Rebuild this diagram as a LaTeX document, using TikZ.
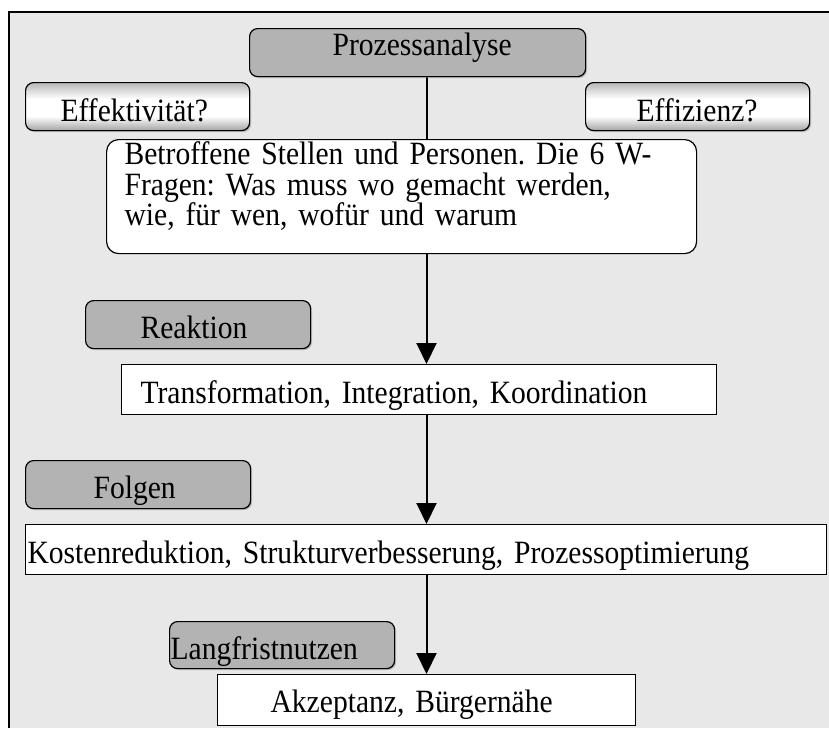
\documentclass[tikz,border=0pt]{standalone}
\usepackage{fontspec}
\setmainfont[FakeStretch=0.91]{Liberation Serif}
\usetikzlibrary{arrows.meta,shadows}

\definecolor{panelgray}{HTML}{E8E8E8}
\definecolor{boxgray}{HTML}{B3B3B3}

% button look: grey at the edges, white band in the middle
\pgfdeclareverticalshading{buttonshade}{100bp}{%
  color(0bp)=(black!36); color(25bp)=(black!36);
  color(40bp)=(white); color(58bp)=(white);
  color(75bp)=(black!28); color(100bp)=(black!28)}

\pgfdeclarelayer{panel}
\pgfdeclarelayer{wires}
\pgfsetlayers{panel,wires,main}

\tikzset{
  x=1pt, y=-1pt,
  boxbase/.style={anchor=north west, inner xsep=0pt, inner ysep=0pt,
    align=left, draw=black, line width=1.2pt,
    font=\fontsize{32.5pt}{30.5pt}\selectfont\frenchspacing},
  softshadow/.style={drop shadow={shadow xshift=1.5pt, shadow yshift=-1.5pt,
    fill=black!45}},
  graybox/.style={boxbase, fill=boxgray, rounded corners=8pt, softshadow},
  buttonbox/.style={boxbase, shade, shading=buttonshade, rounded corners=8pt,
    softshadow},
  notebox/.style={boxbase, fill=white, rounded corners=12pt},
  whitebox/.style={boxbase, fill=white},
  flow/.style={line width=2pt, -{Triangle[width=20pt,length=21pt]}},
}

\begin{document}
\begin{tikzpicture}
\useasboundingbox (0,0) rectangle (829,728);

% grey panel with its frame
\begin{pgfonlayer}{panel}
  \fill[panelgray] (9,12) rectangle (829,728);
  \draw[line width=1.5pt] (9,728) -- (9,12) -- (829,12);
\end{pgfonlayer}

% headings and questions
\node[graybox, text width=336pt, text height=27pt, text depth=21pt]
  (pa) at (249,28) {\hspace*{83pt}Prozessanalyse};
\node[buttonbox, text width=224pt, text height=39pt, text depth=9pt]
  (eff) at (25,82) {\hspace*{35pt}Effektivität?};
\node[buttonbox, text width=224pt, text height=39pt, text depth=9pt]
  (ezi) at (585,82) {\hspace*{51pt}Effizienz?};

% description of the analysis
\node[notebox, inner xsep=18pt, text width=554pt, text height=25pt, text depth=89pt]
  (bet) at (106,139)
  {Betroffene Stellen und Personen. Die 6 W-\\
   Fragen: Was muss wo gemacht werden,\\
   wie, für wen, wofür und warum};

% stages
\node[graybox, text width=225pt, text height=38pt, text depth=10pt]
  (re) at (85,300) {\hspace*{55pt}Reaktion};
\node[whitebox, text width=595pt, text height=39pt, text depth=11pt]
  (tr) at (121,364) {\hspace*{19pt}Transformation, Integration, Koordination};

\node[graybox, text width=225pt, text height=38pt, text depth=10pt]
  (fo) at (25,460) {\hspace*{68pt}Folgen};
\node[whitebox, text width=801pt, text height=39pt, text depth=11pt]
  (ko) at (25,524) {\hspace*{2pt}Kostenreduktion, Strukturverbesserung, Prozessoptimierung};

\node[graybox, text width=225pt, text height=38pt, text depth=9pt]
  (la) at (169,621) {\hspace*{1pt}Langfristnutzen};
\node[whitebox, text width=418pt, text height=38pt, text depth=13pt]
  (ak) at (217,674) {\hspace*{53pt}Akzeptanz, Bürgernähe};

% vertical flow, running behind the boxes
\coordinate (spine) at (426.5,0);
\begin{pgfonlayer}{wires}
  \draw[flow] (pa.south -| spine) -- (tr.north -| spine);
  \draw[flow] (tr.south -| spine) -- (ko.north -| spine);
  \draw[flow] (ko.south -| spine) -- (ak.north -| spine);
\end{pgfonlayer}
\end{tikzpicture}
\end{document}
